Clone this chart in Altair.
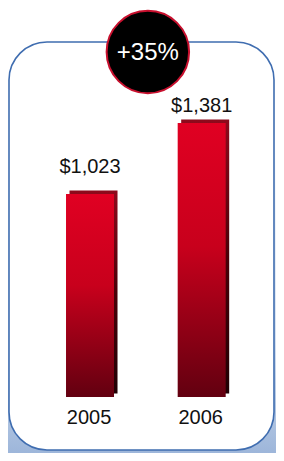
import altair as alt
import pandas as pd

# ---- data ----
years = [2005, 2006]
values = [1023, 1381]

growth = round((values[1] / values[0] - 1) * 100)

bars = pd.DataFrame({"year": years, "value": values})
badge = pd.DataFrame({"mid": [sum(years) / 2], "label": [f"+{growth}%"]})
deco = pd.DataFrame({"k": [0]})

W, H = 268, 445
FONT = "Liberation Sans"

xs = alt.Scale(domain=[2004.3103, 2006.6207], nice=False, zero=False)
ys = alt.Scale(domain=[-282.25, 1960.6], nice=False, zero=False)

bg_grad = alt.LinearGradient(
    gradient="linear", x1=0, y1=0, x2=0, y2=1,
    stops=[alt.GradientStop(color="#ffffff", offset=0),
           alt.GradientStop(color="#ffffff", offset=0.3),
           alt.GradientStop(color="#d6e1f0", offset=0.75),
           alt.GradientStop(color="#9db6da", offset=1)])

background = alt.Chart(deco).mark_rect(fill=bg_grad).encode(
    x=alt.value(0), x2=alt.value(W), y=alt.value(0), y2=alt.value(H))

box = alt.Chart(deco).mark_rect(
    fill="white", stroke="#3f6db0", strokeWidth=1.6, cornerRadius=38
).encode(x=alt.value(1), x2=alt.value(266), y=alt.value(34), y2=alt.value(442))

front_grad = alt.LinearGradient(
    gradient="linear", x1=0, y1=0, x2=0, y2=1,
    stops=[alt.GradientStop(color="#e00022", offset=0),
           alt.GradientStop(color="#c8001c", offset=0.45),
           alt.GradientStop(color="#620010", offset=1)])
back_grad = alt.LinearGradient(
    gradient="linear", x1=0, y1=0, x2=0, y2=1,
    stops=[alt.GradientStop(color="#8e0a1c", offset=0),
           alt.GradientStop(color="#4a0008", offset=0.5),
           alt.GradientStop(color="#200004", offset=1)])

base = alt.Chart(bars)
back = base.mark_bar(width=48, color=back_grad, xOffset=3.5, yOffset=-3.5).encode(
    x=alt.X("year:Q", scale=xs, axis=None),
    y=alt.Y("value:Q", scale=ys, axis=None))
front = base.mark_bar(width=48, color=front_grad).encode(
    x=alt.X("year:Q", scale=xs, axis=None),
    y=alt.Y("value:Q", scale=ys, axis=None))

def value_label(yr, off):
    return base.transform_filter(alt.datum.year == yr).mark_text(
        font=FONT, fontSize=20, color="#111111", baseline="middle", dy=off
    ).encode(x=alt.X("year:Q", scale=xs), y=alt.Y("value:Q", scale=ys),
             text=alt.Text("value:Q", format="$,.0f"))

lab1 = value_label(2005, -27)
lab2 = value_label(2006, -17)

year_labels = base.mark_text(
    font=FONT, fontSize=20, color="#111111", baseline="middle", dy=21, dx=-1
).encode(x=alt.X("year:Q", scale=xs), y=alt.datum(0, scale=ys),
         text=alt.Text("year:Q", format="d"))

circle = alt.Chart(badge).mark_point(
    shape="circle", filled=True, fill="black", stroke="#c8102e",
    strokeWidth=2, size=6800, opacity=1, fillOpacity=1, xOffset=2
).encode(x=alt.X("mid:Q", scale=xs), y=alt.value(44))

badge_text = alt.Chart(badge).mark_text(
    font=FONT, fontSize=24, color="white", baseline="middle", dx=2
).encode(x=alt.X("mid:Q", scale=xs), y=alt.value(45), text="label:N")

chart = alt.layer(
    background, box, back, front, lab1, lab2, year_labels, circle, badge_text
).properties(
    width=W, height=H, autosize=alt.AutoSizeParams(type="none"), padding=0
).configure_view(stroke=None)

chart.save("out.html", embed_options={"renderer": "svg", "actions": False})
